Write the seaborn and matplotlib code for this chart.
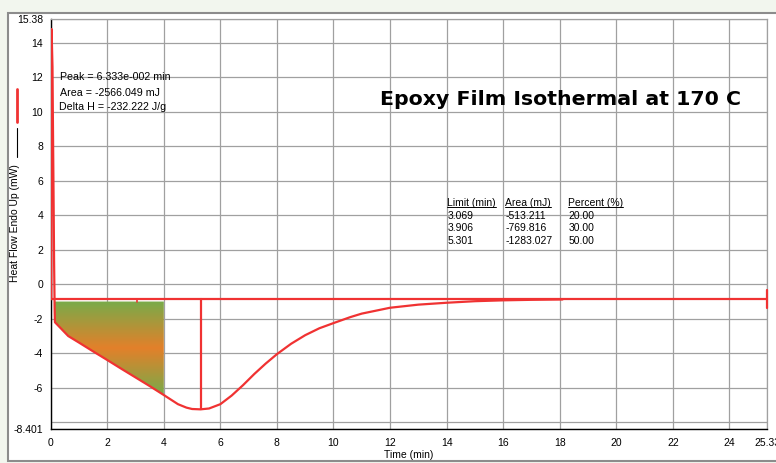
import numpy as np
import pandas as pd
import matplotlib
matplotlib.use("Agg")
import matplotlib.pyplot as plt
import seaborn as sns
from matplotlib.colors import LinearSegmentedColormap
from matplotlib.patches import Polygon, Rectangle
from matplotlib.lines import Line2D

# ---- data -------------------------------------------------------------
time_min = [0.02, 0.03, 0.063, 0.08, 0.10, 0.12, 0.14, 0.15, 0.62, 1.0, 1.5,
            2.0, 2.5, 3.0, 3.5, 4.0, 4.5, 4.8, 5.0, 5.3, 5.6, 6.0, 6.4, 6.8,
            7.2, 7.6, 8.0, 8.5, 9.0, 9.5, 10.0, 10.6, 11.0, 12.0, 13.0, 14.0,
            15.0, 16.0, 17.0, 18.1]
heat_flow_mw = [-0.86, 14.8, 12.6, 9.1, 5.3, 1.3, -1.5, -2.2, -3.0, -3.38,
                -3.89, -4.39, -4.9, -5.4, -5.9, -6.42, -6.95, -7.15, -7.23,
                -7.25, -7.2, -6.95, -6.45, -5.85, -5.2, -4.6, -4.05, -3.45,
                -2.95, -2.55, -2.25, -1.9, -1.7, -1.36, -1.18, -1.07, -0.98,
                -0.93, -0.90, -0.88]

baseline_mw = -0.86
peak_time = 5.301
peak_value = -7.25
partial_start, partial_end, partial_top = 0.15, 4.0, -1.0
first_limit = 3.069

limit_col = ["3.069", "3.906", "5.301"]
area_col = ["-513.211", "-769.816", "-1283.027"]
percent_col = ["20.00", "30.00", "50.00"]

x_ticks = [0, 2, 4, 6, 8, 10, 12, 14, 16, 18, 20, 22, 24, 25.33]
x_labels = ["0", "2", "4", "6", "8", "10", "12", "14", "16", "18", "20",
            "22", "24", "25.33"]
y_ticks = [-8.401, -8, -6, -4, -2, 0, 2, 4, 6, 8, 10, 12, 14, 15.38]
y_labels = ["-8.401", "", "-6", "-4", "-2", "0", "2", "4", "6", "8", "10",
            "12", "14", "15.38"]

# ---- style ------------------------------------------------------------
sns.set_theme(style="white")
plt.rcParams["font.family"] = ["Liberation Sans", "DejaVu Sans"]
plt.rcParams["text.color"] = "black"
plt.rcParams["axes.labelcolor"] = "black"
RED = "#f03232"
FS = 7.5

W, H = 776, 463
fig = plt.figure(figsize=(W / 100, H / 100), dpi=100)
fig.patch.set_facecolor("#f2f6ee")

def px(x, y):
    return x / W, 1 - y / H

# white panel with grey frame
x0, y0 = px(8, 461)
fig.add_artist(Rectangle((x0, y0), (790 - 8) / W, (461 - 13) / H,
                         transform=fig.transFigure, facecolor="white",
                         edgecolor="#8c8c8c", lw=1.5, zorder=0))

left, right = 50.7 / W, 767 / W
bottom, top = 1 - 429.2 / H, 1 - 19 / H
ax = fig.add_axes([left, bottom, right - left, top - bottom])
ax.set_facecolor("white")

df = pd.DataFrame({"time": time_min, "heat": heat_flow_mw})

# baseline and partial-area markers
ax.plot([0, x_ticks[-1]], [baseline_mw, baseline_mw], color=RED, lw=1.6, zorder=3)
ax.plot([x_ticks[-1]] * 2, [-0.34, -1.38], color=RED, lw=1.6, zorder=3, clip_on=False)
ax.plot([first_limit] * 2, [baseline_mw, baseline_mw - 0.15], color=RED, lw=1.2, zorder=3)
ax.plot([peak_time] * 2, [baseline_mw, peak_value], color=RED, lw=1.6, zorder=3)

# gradient-filled partial area
t = np.array(time_min)
h = np.array(heat_flow_mw)
sel = (t >= partial_start) & (t <= partial_end)
poly_pts = list(zip(t[sel], h[sel])) + [(partial_end, partial_top), (partial_start, partial_top)]
poly = Polygon(poly_pts, closed=True, facecolor="none", edgecolor="none",
               transform=ax.transData)
ax.add_patch(poly)
cmap = LinearSegmentedColormap.from_list("gor", ["#78ab4a", "#e3802a", "#78ab4a"])
grad = np.linspace(0, 1, 256).reshape(-1, 1)
img = ax.imshow(grad, extent=[partial_start, partial_end, h[sel].min(), partial_top],
                cmap=cmap, aspect="auto", origin="upper", zorder=2,
                interpolation="bilinear")
img.set_clip_path(poly)

sns.lineplot(data=df, x="time", y="heat", sort=False, estimator=None,
             color=RED, lw=1.6, ax=ax, zorder=4)

ax.set_xlim(0, 25.33)
ax.set_ylim(-8.401, 15.38)
ax.set_xticks(x_ticks)
ax.set_xticklabels(x_labels)
ax.set_yticks(y_ticks)
ax.set_yticklabels(y_labels)
ax.tick_params(direction="inout", length=6, width=0.8, color="black",
               labelsize=FS, labelcolor="black", pad=2.5)
ax.tick_params(axis="x", pad=3.5)
ax.grid(True, color="#a0a0a0", lw=0.9)
ax.set_axisbelow(True)
for s in ["left", "bottom"]:
    ax.spines[s].set_color("black")
    ax.spines[s].set_linewidth(1.0)
for s in ["top", "right"]:
    ax.spines[s].set_color("#a0a0a0")
    ax.spines[s].set_linewidth(0.9)

ax.set_xlabel("Time (min)", fontsize=FS)
ax.xaxis.set_label_coords(0.5, (429.2 - 455) / 410.2)
ax.xaxis.label.set_va("center")
ax.set_ylabel("Heat Flow Endo Up (mW)", fontsize=FS)
ax.yaxis.set_label_coords((15 - 50.7) / 716.3, (429.2 - 223.5) / 410.2)
ax.yaxis.label.set_va("center")
ax.yaxis.label.set_rotation_mode("anchor")

# legend strokes beside the axis label
fig.add_artist(Line2D([17.3 / W] * 2, [1 - 128 / H, 1 - 157 / H],
                      color="black", lw=0.8, transform=fig.transFigure))
fig.add_artist(Line2D([17.3 / W] * 2, [1 - 89 / H, 1 - 122 / H],
                      color=RED, lw=2.0, transform=fig.transFigure))

# peak annotation
ax.text(0.33, 12.0, "Peak = 6.333e-002 min", fontsize=7.7, va="center")
ax.text(0.33, 11.1, "Area = -2566.049 mJ", fontsize=7.7, va="center")
ax.text(0.29, 10.3, "Delta H = -232.222 J/g", fontsize=7.7, va="center")

ax.text(11.66, 10.39, "Epoxy Film Isothermal at 170 C", fontsize=14.75,
        fontweight="bold", va="baseline", ha="left", family="DejaVu Sans")

# partial area table
col_x = [14.02, 16.08, 18.3]
headers = ["Limit (min)", "Area (mJ)", "Percent (%)"]
row_y = [3.98, 3.26, 2.53]
header_texts = [ax.text(cx, 4.71, hd, fontsize=FS, va="center")
                for cx, hd in zip(col_x, headers)]
for cx, col in zip(col_x, [limit_col, area_col, percent_col]):
    for ry, val in zip(row_y, col):
        ax.text(cx, ry, val, fontsize=FS, va="center")

fig.canvas.draw()
renderer = fig.canvas.get_renderer()
inv = fig.transFigure.inverted()
for txt in header_texts:
    bb = txt.get_window_extent(renderer)
    (fx0, fy), = inv.transform([(bb.x0, bb.y0 + 1.5)])
    (fx1, _), = inv.transform([(bb.x1, bb.y0 + 1.5)])
    fig.add_artist(Line2D([fx0, fx1], [fy, fy], color="black", lw=0.7,
                          transform=fig.transFigure))

fig.savefig("out.png", dpi=100, facecolor=fig.get_facecolor())
